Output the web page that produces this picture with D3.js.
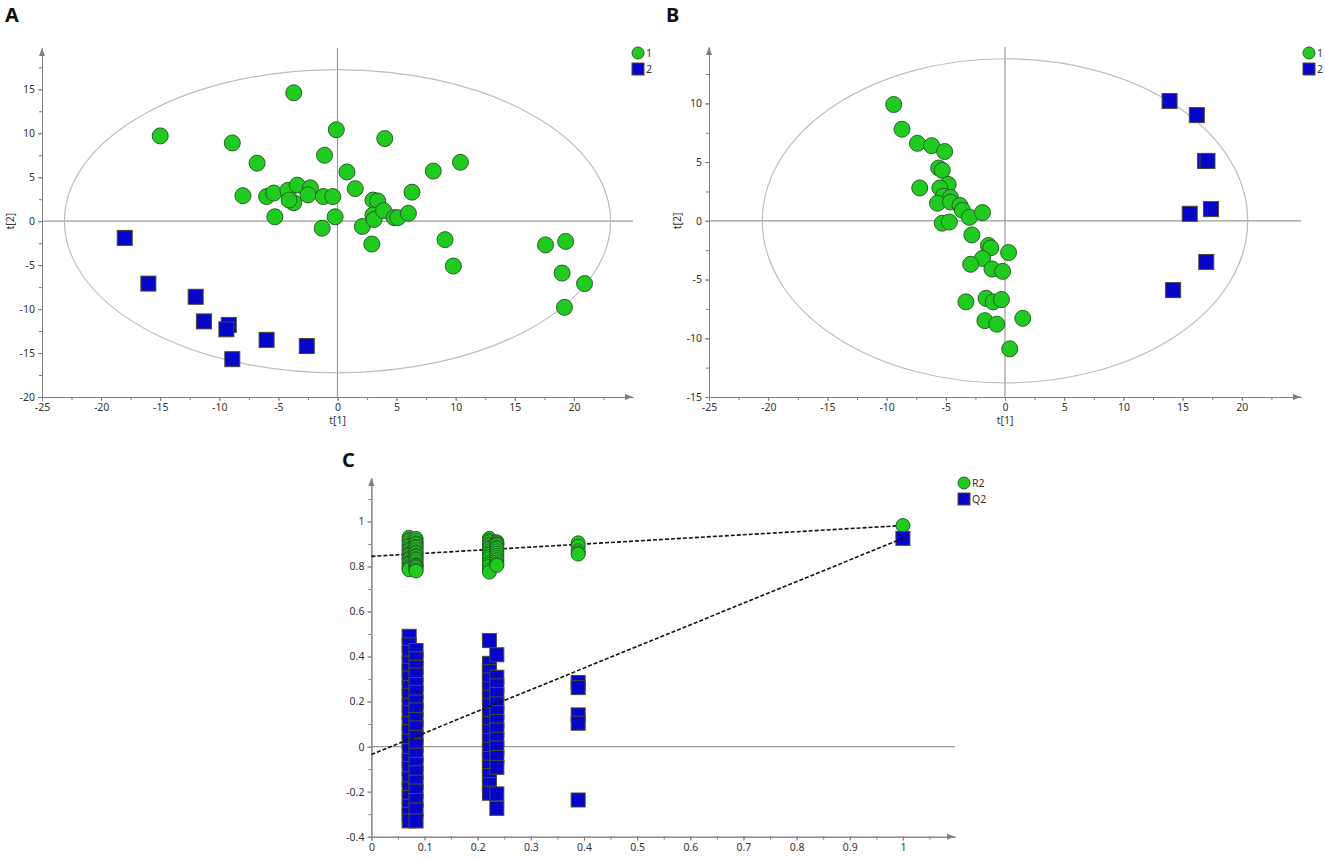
<!DOCTYPE html>
<html>
<head>
<meta charset="utf-8">
<script src="https://cdn.jsdelivr.net/npm/d3@7"></script>
<style>
  body { margin: 0; background: #fff; }
  text { font-family: "Noto Sans", "Open Sans", sans-serif; }
  .tick text { fill: #333; font-size: 10.5px; }
  .domain, .tick line { stroke: #808080; }
</style>
</head>
<body>
<script>
// score plot A, group 1 (circles) and group 2 (squares), [t1, t2]
var scoresA1 = [[-3.7,14.6],[-15.0,9.7],[-8.9,8.9],[-0.1,10.4],[4.0,9.4],[-1.1,7.5],[-6.8,6.6],
  [0.8,5.6],[10.4,6.7],[8.1,5.7],[1.5,3.7],[6.3,3.3],[-8.0,2.9],[-6.0,2.8],[-5.4,3.2],[-4.2,3.5],
  [-3.4,4.1],[-2.3,3.8],[-2.5,3.0],[-3.7,2.1],[-4.1,2.4],[-1.2,2.8],[-0.4,2.8],[-5.3,0.5],
  [-0.2,0.5],[-1.3,-0.8],[2.1,-0.6],[3.0,2.4],[3.4,2.3],[3.0,0.7],[3.1,0.2],[3.9,1.2],[4.8,0.4],
  [5.1,0.4],[6.0,0.9],[2.9,-2.6],[9.1,-2.1],[9.8,-5.1],[17.6,-2.7],[19.3,-2.3],[19.0,-5.9],
  [20.9,-7.1],[19.2,-9.8]];
var scoresA2 = [[-18.0,-1.9],[-16.0,-7.1],[-12.0,-8.6],[-11.3,-11.4],[-9.2,-11.8],[-9.4,-12.3],
  [-6.0,-13.5],[-2.6,-14.2],[-8.9,-15.7]];

// score plot B
var scoresB1 = [[-9.4,9.9],[-8.7,7.8],[-7.4,6.6],[-6.2,6.4],[-5.1,5.9],[-5.6,4.5],[-5.3,4.3],
  [-7.2,2.8],[-4.8,3.1],[-5.5,2.8],[-5.2,2.1],[-4.6,2.0],[-5.7,1.5],[-4.6,1.6],[-3.8,1.3],
  [-3.6,0.9],[-3.0,0.3],[-1.9,0.7],[-5.3,-0.2],[-4.7,-0.1],[-2.8,-1.2],[-1.4,-2.1],[-1.2,-2.3],
  [0.3,-2.7],[-1.9,-3.2],[-2.9,-3.7],[-1.1,-4.1],[-0.2,-4.3],[-3.3,-6.9],[-1.6,-6.6],[-1.0,-6.9],
  [-0.3,-6.7],[-1.7,-8.5],[-0.7,-8.8],[1.5,-8.3],[0.4,-10.9]];
var scoresB2 = [[13.9,10.2],[16.2,9.0],[16.9,5.1],[17.1,5.1],[17.4,1.0],[15.6,0.6],[17.0,-3.5],[14.2,-5.9]];

// Hotelling ellipse half-axes [t1, t2]
var ellipseA = [23.1, 17.25];
var ellipseB = [20.5, 13.8];

var scoreTicksA_x = [-25,-20,-15,-10,-5,0,5,10,15,20];
var scoreTicksA_y = [-20,-15,-10,-5,0,5,10,15];
var scoreTicksB_x = [-25,-20,-15,-10,-5,0,5,10,15,20];
var scoreTicksB_y = [-15,-10,-5,0,5,10];

// permutation test C: correlation levels and R2 / Q2 per level
var permCorr = [0.071, 0.084, 0.222, 0.236, 0.389, 1.0];
var permR2 = [
  [0.93,0.92,0.915,0.905,0.895,0.89,0.88,0.875,0.87,0.86,0.855,0.85,0.84,0.835,0.83,0.82,0.815,0.81,0.80,0.795,0.79,0.785],
  [0.925,0.915,0.905,0.90,0.89,0.885,0.875,0.865,0.86,0.85,0.845,0.835,0.83,0.82,0.81,0.805,0.80,0.795,0.785,0.78],
  [0.925,0.915,0.91,0.90,0.895,0.885,0.88,0.87,0.86,0.855,0.845,0.835,0.82,0.81,0.80,0.785,0.775],
  [0.91,0.905,0.90,0.895,0.885,0.88,0.87,0.86,0.85,0.84,0.83,0.82,0.81,0.805],
  [0.905,0.89,0.87,0.86,0.855],
  [0.982]
];
var permQ2 = [
  [0.49,0.452,0.418,0.371,0.338,0.305,0.262,0.228,0.184,0.151,0.102,0.067,0.024,-0.018,-0.061,-0.097,-0.142,-0.188,-0.226,-0.265,-0.301,-0.33],
  [0.427,0.39,0.352,0.318,0.276,0.241,0.198,0.163,0.121,0.083,0.041,0.006,-0.038,-0.079,-0.116,-0.158,-0.197,-0.239,-0.281,-0.33],
  [0.471,0.37,0.333,0.296,0.257,0.219,0.182,0.141,0.103,0.066,0.027,-0.012,-0.052,-0.091,-0.128,-0.169,-0.207],
  [0.408,0.308,0.27,0.232,0.19,0.151,0.112,0.074,0.033,-0.006,-0.048,-0.092,-0.21,-0.274],
  [0.285,0.262,0.141,0.104,-0.237],
  [0.925]
];
// regression lines through permutations, value at corr 0 and corr 1
var r2Line = [0.845, 0.982];
var q2Line = [-0.035, 0.925];

var permTicks_x = [0,0.1,0.2,0.3,0.4,0.5,0.6,0.7,0.8,0.9,1];
var permTicks_y = [-0.4,-0.2,0,0.2,0.4,0.6,0.8,1];

var greenFill = "#1fcb1f", greenEdge = "#2a5e2a";
var blueFill = "#0606c8", blueEdge = "#4a4a30";

var svg = d3.select("body").append("svg")
    .attr("width", 1325)
    .attr("height", 859);

//halfway points between major ticks
function minors(major) {
    var out = [];
    for (var i = 0; i < major.length; i++) {
        out.push(major[i]);
        if (i < major.length - 1) out.push((major[i] + major[i+1]) / 2);
        else out.push(major[i] + (major[i] - major[i-1]) / 2);
    }
    return out;
}

function plain(d) { return String(d); }

function drawAxes(x, y, xTicks, yTicks) {
    var x0 = x.range()[0], x1 = x.range()[1];
    var y0 = y.range()[0], y1 = y.range()[1];

    // minor ticks first, no labels
    svg.append("g")
        .attr("transform", "translate(0," + y0 + ")")
        .call(d3.axisBottom(x).tickValues(minors(xTicks).filter(function(d){ return x(d) < x1 - 4; }))
            .tickSize(3).tickSizeOuter(0).tickFormat(""));
    svg.append("g")
        .attr("transform", "translate(" + x0 + ",0)")
        .call(d3.axisLeft(y).tickValues(minors(yTicks).filter(function(d){ return y(d) > y1 + 4; }))
            .tickSize(3).tickSizeOuter(0).tickFormat(""));

    svg.append("g")
        .attr("transform", "translate(0," + y0 + ")")
        .call(d3.axisBottom(x).tickValues(xTicks).tickSize(4).tickSizeOuter(0).tickPadding(3).tickFormat(plain));
    svg.append("g")
        .attr("transform", "translate(" + x0 + ",0)")
        .call(d3.axisLeft(y).tickValues(yTicks).tickSize(4).tickSizeOuter(0).tickPadding(3).tickFormat(plain));

    //arrow heads
    svg.append("path")
        .attr("d", "M" + (x1 - 8) + "," + (y0 - 3) + "L" + x1 + "," + y0 + "L" + (x1 - 8) + "," + (y0 + 3) + "Z")
        .attr("fill", "#808080");
    svg.append("path")
        .attr("d", "M" + (x0 - 3) + "," + (y1 + 8) + "L" + x0 + "," + y1 + "L" + (x0 + 3) + "," + (y1 + 8) + "Z")
        .attr("fill", "#808080");
}

function drawCircles(data, x, y, r) {
    svg.append("g").selectAll("circle")
        .data(data)
        .enter()
      .append("circle")
        .attr("cx", function(d) { return x(d[0]); })
        .attr("cy", function(d) { return y(d[1]); })
        .attr("r", r)
        .attr("fill", greenFill)
        .attr("stroke", greenEdge)
        .attr("stroke-width", 1);
}

function drawSquares(data, x, y, s) {
    svg.append("g").selectAll("rect")
        .data(data)
        .enter()
      .append("rect")
        .attr("x", function(d) { return x(d[0]) - s / 2; })
        .attr("y", function(d) { return y(d[1]) - s / 2; })
        .attr("width", s)
        .attr("height", s)
        .attr("fill", blueFill)
        .attr("stroke", blueEdge)
        .attr("stroke-width", 1);
}

function drawLegend(lx, ly, labels) {
    var lg = svg.append("g").attr("transform", "translate(" + lx + "," + ly + ")");
    lg.append("circle").attr("cx", 0).attr("cy", 0).attr("r", 6)
        .attr("fill", greenFill).attr("stroke", greenEdge);
    lg.append("rect").attr("x", -6).attr("y", 10).attr("width", 12).attr("height", 12)
        .attr("fill", blueFill).attr("stroke", blueEdge);
    lg.append("text").attr("x", 8).attr("y", 4).attr("font-size", 10.5).attr("fill", "#333").text(labels[0]);
    lg.append("text").attr("x", 8).attr("y", 20).attr("font-size", 10.5).attr("fill", "#333").text(labels[1]);
}

function panelLetter(px, py, letter) {
    svg.append("text")
        .attr("x", px)
        .attr("y", py)
        .attr("font-family", "'Liberation Sans', Arial, sans-serif")
        .attr("font-weight", "bold")
        .attr("font-size", 20)
        .attr("fill", "#111")
        .text(letter);
}

function scorePlot(cfg) {
    var x = d3.scaleLinear().domain(cfg.xDomain).range(cfg.xRange);
    var y = d3.scaleLinear().domain(cfg.yDomain).range(cfg.yRange);

    //zero lines
    svg.append("line")
        .attr("x1", x.range()[0]).attr("x2", x.range()[1])
        .attr("y1", y(0)).attr("y2", y(0))
        .attr("stroke", "#999").attr("stroke-width", 1.2);
    svg.append("line")
        .attr("x1", x(0)).attr("x2", x(0))
        .attr("y1", y.range()[0]).attr("y2", y.range()[1])
        .attr("stroke", "#999").attr("stroke-width", 1.2);

    //ellipse
    svg.append("ellipse")
        .attr("cx", x(0)).attr("cy", y(0))
        .attr("rx", x(cfg.ellipse[0]) - x(0))
        .attr("ry", y(0) - y(cfg.ellipse[1]))
        .attr("fill", "none")
        .attr("stroke", "#bdbdbd")
        .attr("stroke-width", 1.2);

    drawAxes(x, y, cfg.xTicks, cfg.yTicks);

    svg.append("text")
        .attr("transform", "translate(" + (x.range()[0] - 28) + "," + y(0) + ") rotate(-90)")
        .attr("text-anchor", "middle")
        .attr("font-size", 10.5)
        .attr("fill", "#333")
        .text("t[2]");
    svg.append("text")
        .attr("x", x(0))
        .attr("y", y.range()[0] + 27)
        .attr("text-anchor", "middle")
        .attr("font-size", 10.5)
        .attr("fill", "#333")
        .text("t[1]");

    drawCircles(cfg.g1, x, y, 8);
    drawSquares(cfg.g2, x, y, 15);
    drawLegend(cfg.legend[0], cfg.legend[1], ["1", "2"]);
}

scorePlot({
    xDomain: [-25, 25], xRange: [42, 633],
    yDomain: [-20, 19.7], yRange: [397, 48],
    xTicks: scoreTicksA_x, yTicks: scoreTicksA_y,
    ellipse: ellipseA, g1: scoresA1, g2: scoresA2,
    legend: [638, 53]
});
scorePlot({
    xDomain: [-25, 25], xRange: [709, 1301],
    yDomain: [-15, 14.8], yRange: [397, 47],
    xTicks: scoreTicksB_x, yTicks: scoreTicksB_y,
    ellipse: ellipseB, g1: scoresB1, g2: scoresB2,
    legend: [1309, 53]
});

// permutation plot
function permPlot() {
    var x = d3.scaleLinear().domain([0, 1.098]).range([371.4, 955]);
    var y = d3.scaleLinear().domain([-0.4, 1.193]).range([836.7, 478]);

    svg.append("line")
        .attr("x1", x.range()[0]).attr("x2", x.range()[1])
        .attr("y1", y(0)).attr("y2", y(0))
        .attr("stroke", "#999").attr("stroke-width", 1.2);

    drawAxes(x, y, permTicks_x, permTicks_y);

    var r2Pts = [], q2Pts = [];
    permCorr.forEach(function(c, i) {
        permR2[i].forEach(function(v) { r2Pts.push([c, v]); });
        permQ2[i].forEach(function(v) { q2Pts.push([c, v]); });
    });

    var line = d3.line()
        .x(function(d) { return x(d[0]); })
        .y(function(d) { return y(d[1]); });

    svg.append("path")
        .datum([[0, r2Line[0]], [1, r2Line[1]]])
        .attr("d", line)
        .attr("fill", "none").attr("stroke", "#111")
        .attr("stroke-width", 1.6).attr("stroke-dasharray", "4,2");

    drawCircles(r2Pts, x, y, 7);
    drawSquares(q2Pts, x, y, 14);

    svg.append("path")
        .datum([[0, q2Line[0]], [1, q2Line[1]]])
        .attr("d", line)
        .attr("fill", "none").attr("stroke", "#111")
        .attr("stroke-width", 1.6).attr("stroke-dasharray", "4,2");

    drawLegend(964, 483, ["R2", "Q2"]);
}
permPlot();

panelLetter(5, 22, "A");
panelLetter(666, 22, "B");
panelLetter(342, 467, "C");
</script>
</body>
</html>
